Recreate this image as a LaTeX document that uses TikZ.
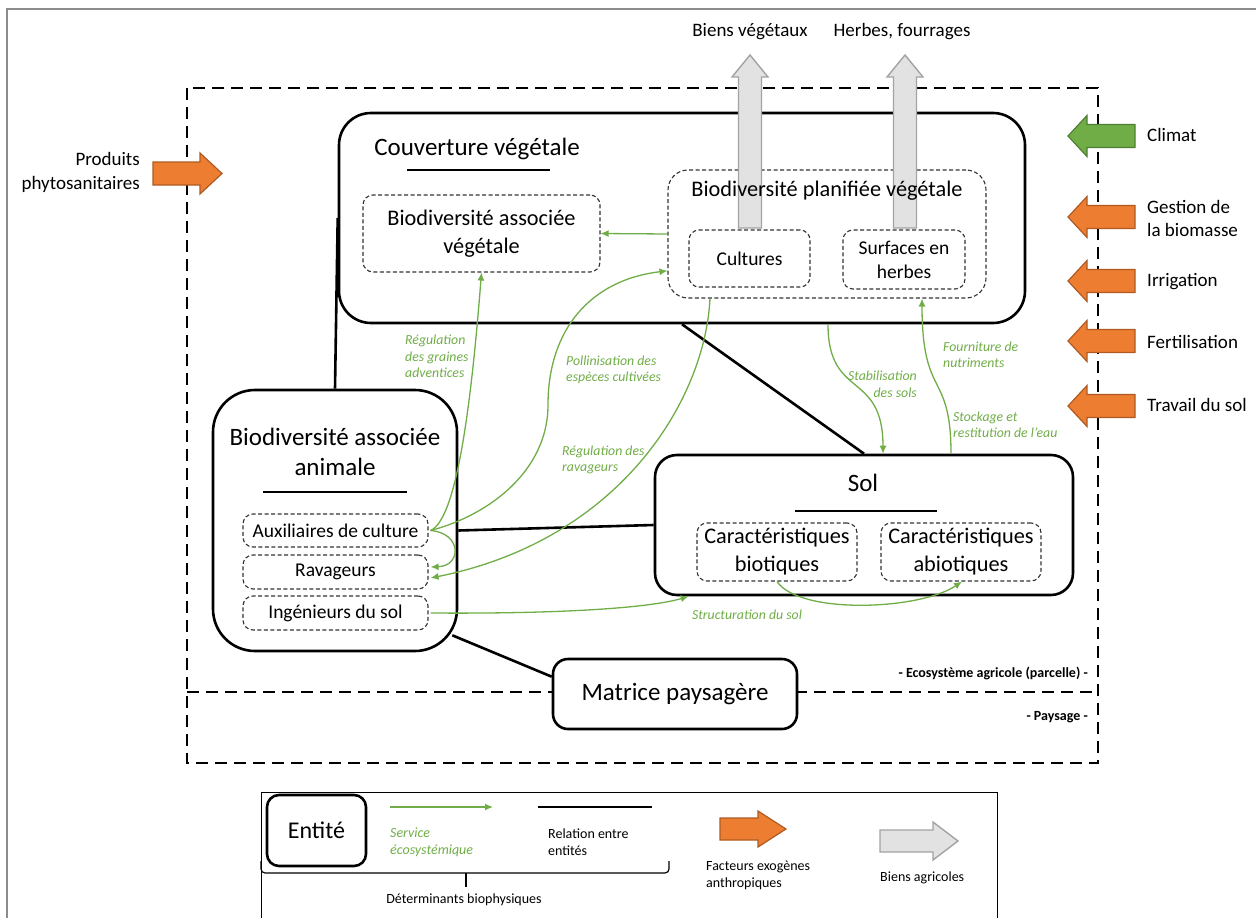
\documentclass[tikz,border=0pt]{standalone}
\usepackage{fontspec}
\setmainfont{Carlito}
\usetikzlibrary{arrows.meta,calc}
\definecolor{svc}{HTML}{70AD47}
\definecolor{svcd}{HTML}{507E32}
\definecolor{orf}{HTML}{ED7D31}
\definecolor{ord}{HTML}{AE5A21}
\definecolor{grf}{HTML}{E2E2E2}
\definecolor{grd}{HTML}{A3A3A3}
\newcommand\fsz[2]{\fontsize{#1}{#2}\selectfont}
% horizontal block arrow: style, tail x, tip x, y, shaft half, head half, signed head length
\newcommand\hblk[7]{\draw[#1] ({#2},{#4-#5}) -- ({#3-(#7)},{#4-#5}) -- ({#3-(#7)},{#4-#6}) -- ({#3},{#4}) -- ({#3-(#7)},{#4+#6}) -- ({#3-(#7)},{#4+#5}) -- ({#2},{#4+#5}) -- cycle;}
% vertical block arrow: style, x, tail y, tip y, shaft half, head half, head length
\newcommand\vblk[7]{\draw[#1] ({#2-#5},{#3}) -- ({#2-#5},{#4+(#7)}) -- ({#2-#6},{#4+(#7)}) -- ({#2},{#4}) -- ({#2+#6},{#4+(#7)}) -- ({#2+#5},{#4+(#7)}) -- ({#2+#5},{#3}) -- cycle;}
\begin{document}
\begin{tikzpicture}[x=1pt,y=-1pt,
  bigbox/.style={draw, line width=2.6pt, fill=white, inner sep=0pt, align=center},
  dbox/.style={draw=black!80, line width=1.1pt, dash pattern=on 4pt off 2.5pt, rounded corners=10pt, inner sep=0pt, align=center},
  rel/.style={line width=2.6pt},
  svcarrow/.style={draw=svc, line width=1.3pt, -{Latex[length=8pt,width=7pt]}},
  svclab/.style={text=svc, font=\itshape\fsz{13.8}{16.5}, align=left, inner sep=0pt},
  outerdash/.style={line width=2.8pt, dash pattern=on 12pt off 7pt},
  bigtxt/.style={font=\fsz{25}{30.5}, align=center, inner sep=0pt},
  medtxt/.style={font=\fsz{22.3}{27.5}, align=center, inner sep=0pt},
  sidetxt/.style={font=\fsz{19}{23.5}, inner sep=0pt},
  legtxt/.style={font=\fsz{14}{17}, align=left, inner sep=0pt},
  orangearrow/.style={fill=orf, draw=ord, line width=1.2pt},
  greenarrow/.style={fill=svc, draw=svcd, line width=1.2pt},
  grayarrow/.style={fill=grf, draw=grd, line width=1.4pt},
]
\useasboundingbox (0,0) rectangle (1256,918);
\draw[black!45, line width=1.2pt] (7,930) -- (7,9) -- (1270,9);

% frames
\draw[outerdash] (187,88) rectangle (1098,763);
\draw[outerdash] (187,692) -- (1098,692);

% entities
\node[bigbox, rounded corners=32pt, minimum width=686pt, minimum height=210pt] (couv) at (682,218) {};
\node[dbox, font=\fsz{22.3}{27.5}, minimum width=237pt, minimum height=77pt] (assocv) at (481.5,233.5) {Biodiversité associée\\végétale};
\node[dbox, rounded corners=20pt, minimum width=318pt, minimum height=128pt] (planif) at (827,234) {};
\node[dbox, font=\fsz{19.5}{24}, minimum width=121pt, minimum height=57pt] (cult) at (749.5,258.5) {Cultures};
\node[dbox, font=\fsz{19.5}{24}, minimum width=122pt, minimum height=59pt] (surf) at (904,259.5) {Surfaces en\\herbes};

\node[bigbox, rounded corners=42pt, minimum width=244pt, minimum height=261pt] (animal) at (335,520.5) {};
\node[dbox, font=\fsz{19.5}{24}, minimum width=185pt, minimum height=33pt] (aux) at (335.5,530.5) {Auxiliaires de culture};
\node[dbox, font=\fsz{19.5}{24}, minimum width=185pt, minimum height=34pt] (rav) at (335.5,572) {Ravageurs};
\node[dbox, font=\fsz{19.5}{24}, minimum width=185pt, minimum height=34pt] (ing) at (335.5,613) {Ingénieurs du sol};

\node[bigbox, rounded corners=22pt, minimum width=418pt, minimum height=140pt] (sol) at (864,525) {};
\node[dbox, font=\fsz{22.3}{28}, minimum width=160pt, minimum height=58pt] (bio) at (777,552) {Caractéristiques\\biotiques};
\node[dbox, font=\fsz{22.3}{28}, minimum width=160pt, minimum height=58pt] (abio) at (961,552) {Caractéristiques\\abiotiques};

\node[bigbox, rounded corners=15pt, minimum width=244pt, minimum height=70pt, font=\fsz{25}{30}] (matrice) at (675,694) {Matrice paysagère};

% agricultural goods (grey arrows)
\vblk{grayarrow}{750}{228}{55}{11.5}{18}{22}
\vblk{grayarrow}{905}{228}{55}{11.5}{18}{22}
\node[sidetxt] (lbv) at (750,32) {Biens végétaux};
\node[sidetxt] (lhf) at (902,32) {Herbes, fourrages};

% titles
\node[bigtxt] (tcouv) at (477,149) {Couverture végétale};
\draw[line width=1.3pt] (407,170) -- (550,170);
\node[medtxt] (tplanif) at (827,191) {Biodiversité planifiée végétale};
\node[bigtxt] (tanimal) at (335,452) {Biodiversité associée\\animale};
\draw[line width=1.3pt] (263,492) -- (407,492);
\node[bigtxt] (tsol) at (863,483) {Sol};
\draw[line width=1.3pt] (795,511) -- (937,511);

% relations
\draw[rel] (couv.west) -- (animal.north);
\draw[rel] (couv.south) -- (sol.north);
\draw[rel] (animal.east |- aux.east) -- (sol.west);
\draw[rel] ($(animal.south east)+(-6,-17)$) -- (matrice.172);

% ecosystem services
\draw[svcarrow] (planif.west) -- (assocv.east);
\draw[svcarrow] ($(aux.east)+(2,0)$) .. controls (455,520) and (470,420) .. (assocv.south);
\draw[svcarrow] ($(aux.east)+(2,0)$) .. controls (490,515) and (548,470) .. (548,405) .. controls (548,330) and (590,280) .. (planif.193);
\draw[svcarrow] ($(planif.south)+(-117,0)$) .. controls (705,400) and (620,540) .. ($(rav.east)+(2,6)$);
\draw[svcarrow] ($(aux.east)+(2,0)$) .. controls (462,533) and (462,566) .. ($(rav.east)+(2,-5)$);
\draw[svcarrow] ($(ing.east)+(2,0)$) .. controls (560,614) and (650,608) .. ($(sol.south west)+(35,0)$);
\draw[svcarrow] (bio.south) .. controls (800,615) and (920,610) .. ($(abio.south)+(1,0)$);
\draw[svcarrow] ($(couv.south)+(146,0)$) .. controls (828,400) and (883,370) .. ($(sol.north)+(19,0)$);
\draw[svcarrow] ($(sol.north)+(87,0)$) .. controls (951,370) and (922,400) .. ($(planif.south)+(95,0)$);

\node[svclab, anchor=west] (l1) at (405,356.5) {Régulation\\des graines\\adventices};
\node[svclab, anchor=west] (l2) at (566,370) {Pollinisation des\\espèces cultivées};
\node[svclab, anchor=west] (l3) at (562,460) {Régulation des\\ravageurs};
\node[svclab, anchor=east, align=right] (l4) at (917,384.5) {Stabilisation\\des sols};
\node[svclab, anchor=west] (l5) at (943,355) {Fourniture de\\nutriments};
\node[svclab, anchor=west] (l6) at (953,425) {Stockage et\\restitution de l’eau};
\node[svclab] (l7) at (747,615) {Structuration du sol};

% scale labels
\node[font=\bfseries\fsz{14}{17}, anchor=east, inner sep=0pt] (leco) at (1088,673) {- Ecosystème agricole (parcelle) -};
\node[font=\bfseries\fsz{14}{17}, anchor=east, inner sep=0pt] (lpay) at (1088,717) {- Paysage -};

% exogenous factors
\hblk{greenarrow}{1135}{1068}{136}{11.5}{20.5}{-19}
\hblk{orangearrow}{1135}{1068}{217}{11.5}{20.5}{-19}
\hblk{orangearrow}{1135}{1068}{281}{11.5}{20.5}{-19}
\hblk{orangearrow}{1135}{1068}{341}{11.5}{20.5}{-19}
\hblk{orangearrow}{1135}{1068}{406}{11.5}{20.5}{-19}
\hblk{orangearrow}{153}{222}{173.5}{11.5}{20.5}{22}
\node[sidetxt, anchor=west] (lclim) at (1147,135) {Climat};
\node[sidetxt, anchor=west, align=left] (lgest) at (1147,218.5) {Gestion de\\la biomasse};
\node[sidetxt, anchor=west] (lirr) at (1147,282) {Irrigation};
\node[sidetxt, anchor=west] (lfert) at (1147,342) {Fertilisation};
\node[sidetxt, anchor=west] (ltrav) at (1147,405) {Travail du sol};
\node[sidetxt, anchor=east, align=right] (lprod) at (140,172.5) {Produits\\phytosanitaires};

% legend
\draw[line width=1pt] (261,930) -- (261,792) -- (997,792) -- (997,930);
\node[bigbox, rounded corners=12pt, minimum width=99pt, minimum height=71pt, font=\fsz{24}{28}] (ent) at (316.5,830.5) {Entité};
\draw[svcarrow] (390,807) -- (493,807);
\node[svclab, font=\itshape\fsz{14}{17}, anchor=west] (lsvc) at (390,842) {Service\\écosystémique};
\draw[rel] (538,807) -- (652,807);
\node[legtxt, anchor=west] (lrel) at (548,842) {Relation entre\\entités};
\draw[line width=1.2pt, rounded corners=4pt] (261,861) -- (261,873) -- (669,873) -- (669,861);
\draw[line width=1.2pt] (466,873) -- (466,887);
\node[legtxt] (ldet) at (464,900) {Déterminants biophysiques};
\hblk{orangearrow}{720}{786}{829}{11}{18}{28}
\node[legtxt, anchor=west] (lfac) at (706,875) {Facteurs exogènes\\anthropiques};
\hblk{grayarrow}{880}{958}{841}{11}{19}{25}
\node[legtxt, anchor=west] (lbiens) at (880,878) {Biens agricoles};
\end{tikzpicture}
\end{document}
